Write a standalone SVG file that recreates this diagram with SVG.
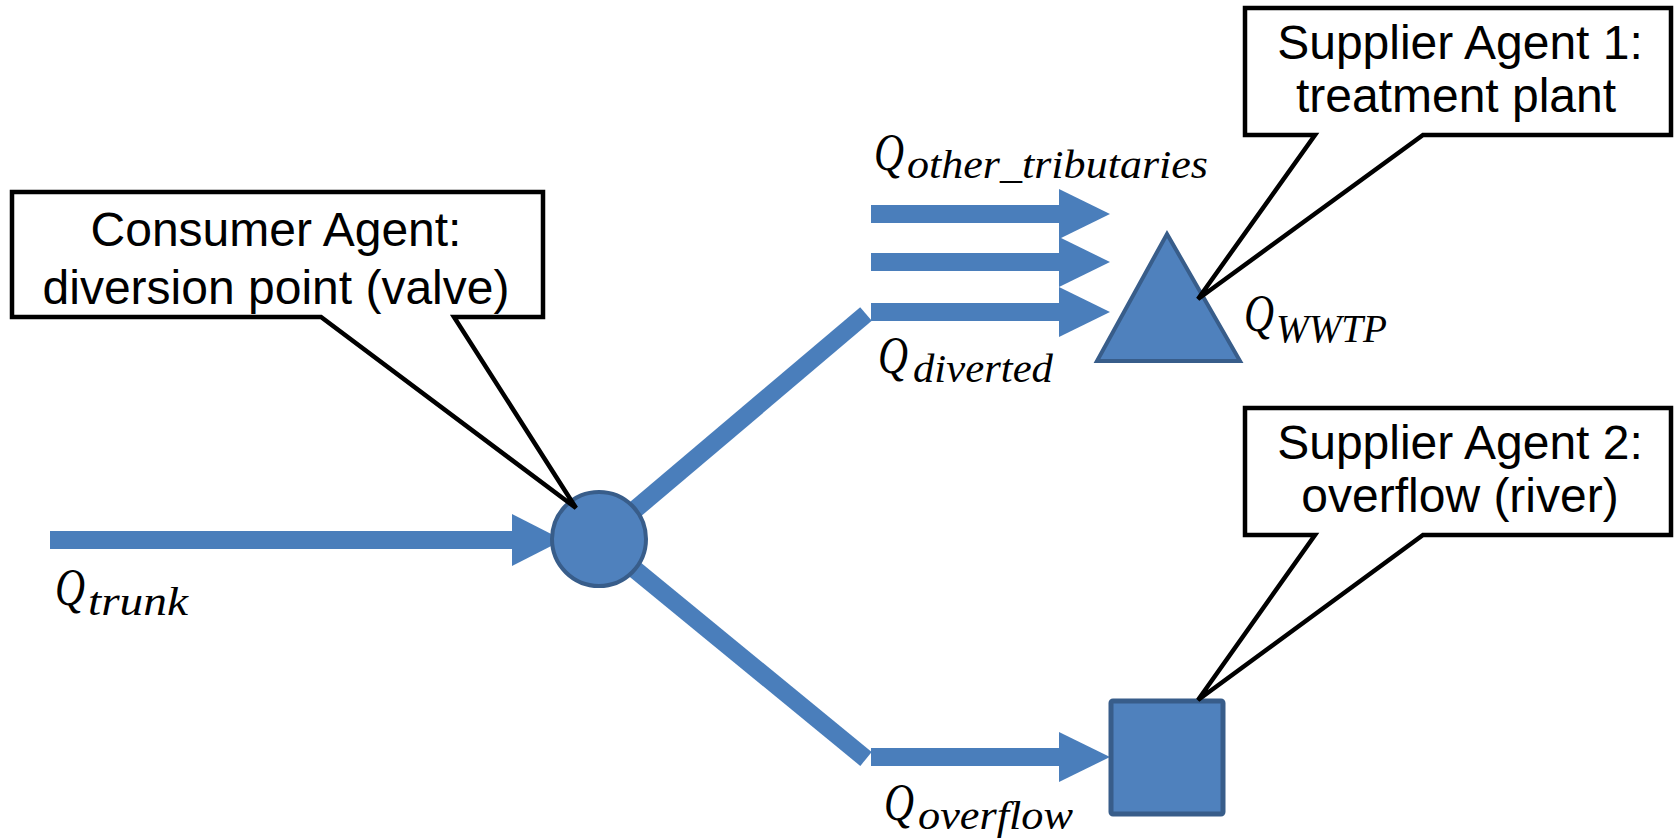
<svg xmlns="http://www.w3.org/2000/svg" width="1676" height="839" viewBox="0 0 1676 839">
<style>
.flow{stroke:#4A7EBB;stroke-width:18;fill:none;stroke-linecap:butt}
.head{fill:#4A7EBB}
.node{fill:#4F81BD;stroke:#385D8A;stroke-width:4}
.callout{fill:#ffffff;stroke:#000000;stroke-width:4.5;stroke-linejoin:miter}
.ct{font-family:"Liberation Sans",Arial,sans-serif;font-size:48px;fill:#000;text-anchor:middle}
.ql{font-family:"Liberation Serif","Times New Roman",serif;font-style:italic;fill:#000}
.q{font-size:52px}
.sub{font-size:41px}
</style>
<rect width="1676" height="839" fill="#ffffff"/>
<g id="connectors">
  <line class="flow" x1="50" y1="540" x2="514" y2="540"/>
  <polygon class="head" points="512,514 563,540 512,566"/>
  <line class="flow" x1="599" y1="540" x2="866" y2="314"/>
  <line class="flow" x1="599" y1="540" x2="866" y2="759"/>
  <line class="flow" x1="871" y1="214" x2="1061" y2="214"/>
  <polygon class="head" points="1059,189 1110,214 1059,239"/>
  <line class="flow" x1="871" y1="262" x2="1061" y2="262"/>
  <polygon class="head" points="1059,237 1110,262 1059,287"/>
  <line class="flow" x1="871" y1="312" x2="1061" y2="312"/>
  <polygon class="head" points="1059,287 1110,312 1059,337"/>
  <line class="flow" x1="871" y1="757" x2="1061" y2="757"/>
  <polygon class="head" points="1059,732 1110,757 1059,782"/>
</g>
<g id="node-valve">
  <circle class="node" cx="599" cy="539" r="47"/>
</g>
<g id="node-wwtp">
  <polygon class="node" points="1167,234 1240,361 1097,361"/>
</g>
<g id="node-river">
  <rect class="node" x="1111" y="701" width="112" height="113" rx="2" style="stroke-width:5"/>
</g>
<g id="callout-consumer">
  <path class="callout" d="M12,192 H543 V317 H454 L576,508 L321,317 H12 Z"/>
  <text class="ct" x="276" y="246">Consumer Agent:</text>
  <text class="ct" x="276" y="304">diversion point (valve)</text>
</g>
<g id="callout-supplier1">
  <path class="callout" d="M1245,8 H1671 V135 H1423 L1198,299 L1315,135 H1245 Z"/>
  <text class="ct" x="1460" y="59">Supplier Agent 1:</text>
  <text class="ct" x="1456" y="112">treatment plant</text>
</g>
<g id="callout-supplier2">
  <path class="callout" d="M1245,408 H1671 V535 H1423 L1198,700 L1315,535 H1245 Z"/>
  <text class="ct" x="1460" y="459">Supplier Agent 2:</text>
  <text class="ct" x="1460" y="512">overflow (river)</text>
</g>
<g id="labels">
  <text class="ql" x="55" y="605"><tspan class="q" textLength="30" lengthAdjust="spacingAndGlyphs">Q</tspan><tspan class="sub" x="88" y="615" textLength="100" lengthAdjust="spacingAndGlyphs">trunk</tspan></text>
  <text class="ql" x="874" y="170"><tspan class="q" textLength="30" lengthAdjust="spacingAndGlyphs">Q</tspan><tspan class="sub" x="907" y="178" textLength="301" lengthAdjust="spacingAndGlyphs">other_tributaries</tspan></text>
  <text class="ql" x="878" y="373"><tspan class="q" textLength="30" lengthAdjust="spacingAndGlyphs">Q</tspan><tspan class="sub" x="913" y="382" textLength="140" lengthAdjust="spacingAndGlyphs">diverted</tspan></text>
  <text class="ql" x="1244" y="331"><tspan class="q" textLength="30" lengthAdjust="spacingAndGlyphs">Q</tspan><tspan class="sub" x="1276" y="342" textLength="111" lengthAdjust="spacingAndGlyphs">WWTP</tspan></text>
  <text class="ql" x="884" y="820"><tspan class="q" textLength="30" lengthAdjust="spacingAndGlyphs">Q</tspan><tspan class="sub" x="918" y="829" textLength="155" lengthAdjust="spacingAndGlyphs">overflow</tspan></text>
</g>
</svg>
